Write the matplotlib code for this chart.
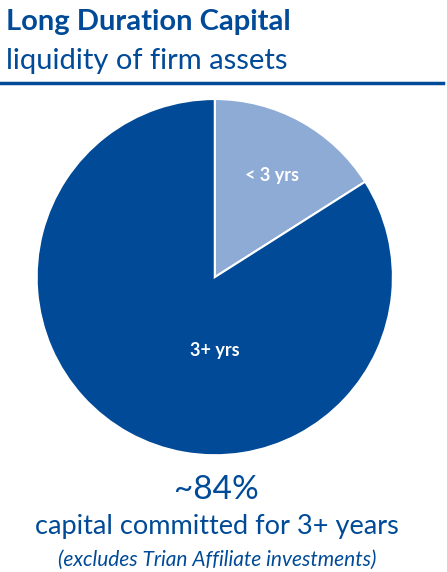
import matplotlib
matplotlib.use("Agg")
import matplotlib.pyplot as plt

plt.rcParams['font.family'] = ['Lato', 'DejaVu Sans']

labels = ["< 3 yrs", "3+ yrs"]
shares = [16, 84]
colors = ["#8DABD5", "#004A97"]
DARK = "#004A97"

fig = plt.figure(figsize=(4.47, 5.72), dpi=100)
fig.patch.set_facecolor("white")

fig.text(0.013, 0.962, "Long Duration Capital", fontsize=21, fontweight="bold", color=DARK, va="center")
fig.text(0.013, 0.893, "liquidity of firm assets", fontsize=21, color=DARK, va="center")
fig.add_artist(plt.Line2D([0.0, 0.99], [0.855, 0.855], color=DARK, lw=2.5))

ax = fig.add_axes([0.078, 0.201, 0.805, 0.629])
wedges, _ = ax.pie(shares, colors=colors, startangle=90, counterclock=False,
                   wedgeprops=dict(edgecolor="white", linewidth=1.5))
ax.set_xlim(-1.01, 1.01)
ax.set_ylim(-1.01, 1.01)
ax.text(0.32, 0.57, labels[0], color="white", fontsize=13, fontweight="bold", ha="center", va="center")
ax.text(0.0, -0.41, labels[1], color="white", fontsize=13, fontweight="bold", ha="center", va="center")
ax.set_aspect("equal")

fig.text(0.485, 0.143, "~84%", fontsize=24, color=DARK, ha="center", va="center")
fig.text(0.485, 0.079, "capital committed for 3+ years", fontsize=19.5, color=DARK, ha="center", va="center")
fig.text(0.485, 0.021, "(excludes Trian Affiliate investments)", fontsize=15, color=DARK,
         ha="center", va="center", style="italic")

fig.savefig("out.png", dpi=100, facecolor="white")
